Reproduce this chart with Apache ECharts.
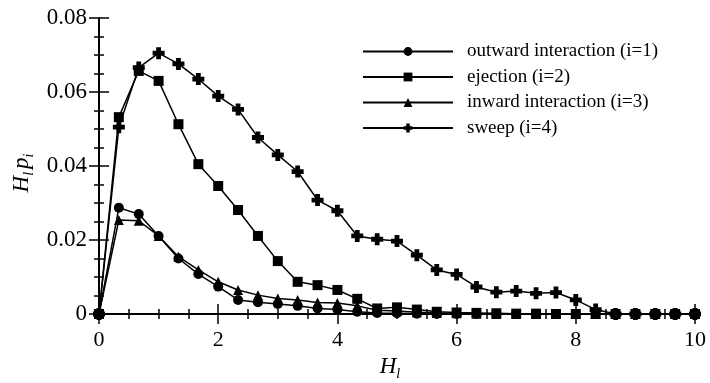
<!DOCTYPE html>
<html>
<head>
<meta charset="utf-8">
<script src="https://cdn.jsdelivr.net/npm/echarts@6/dist/echarts.min.js"></script>
<style>
  html, body { margin: 0; padding: 0; background: #fff; }
  #chart { width: 710px; height: 383px; }
</style>
</head>
<body>
<div id="chart"></div>
<script>
// Hole size H (x positions of the samples)
const holeSize = [0, 0.333, 0.667, 1, 1.333, 1.667, 2, 2.333, 2.667, 3, 3.333, 3.667, 4, 4.333, 4.667, 5,
  5.333, 5.667, 6, 6.333, 6.667, 7, 7.333, 7.667, 8, 8.333, 8.667, 9, 9.333, 9.667, 10];

// H p_i for each quadrant event
const outward = [0, 0.0287, 0.0270, 0.0211, 0.0150, 0.0108, 0.0074, 0.0038, 0.0032, 0.0027, 0.0022, 0.0015,
  0.0012, 0.0006, 0.0003, 0.0002, 0.0001, 0, 0, 0, 0, 0, 0, 0, 0, 0, 0, 0, 0, 0, 0];
const ejection = [0, 0.0532, 0.0657, 0.0630, 0.0513, 0.0405, 0.0346, 0.0281, 0.0211, 0.0143, 0.0087, 0.0078,
  0.0065, 0.0041, 0.0015, 0.0018, 0.0012, 0.0006, 0.0004, 0.0003, 0.0002, 0.0001, 0.0001, 0, 0, 0, 0, 0, 0, 0, 0];
const inward = [0, 0.0254, 0.0252, 0.0211, 0.0155, 0.0119, 0.0087, 0.0065, 0.0051, 0.0042, 0.0038, 0.0031,
  0.0030, 0.0022, 0.0010, 0.0008, 0.0005, 0.0003, 0.0002, 0.0001, 0, 0, 0, 0, 0, 0, 0, 0, 0, 0, 0];
const sweep = [0, 0.0505, 0.0666, 0.0705, 0.0676, 0.0635, 0.0589, 0.0553, 0.0477, 0.0430, 0.0385, 0.0308,
  0.0279, 0.0211, 0.0202, 0.0197, 0.0159, 0.0119, 0.0107, 0.0073, 0.0059, 0.0062, 0.0056, 0.0058, 0.0038,
  0.0012, 0, 0, 0, 0, 0];

const seriesNames = ['outward interaction (i=1)', 'ejection (i=2)', 'inward interaction (i=3)', 'sweep (i=4)'];

const FONT = '"Liberation Serif", "Times New Roman", serif';
// bold four-armed cross used for the sweep markers
const plusPath = 'path://M3,0H7V3H10V7H7V10H3V7H0V3H3Z';

function pairs(ys) { return holeSize.map((h, k) => [h, ys[k]]); }

function lineSeries(name, ys, symbol, size, z) {
  return {
    name: name, type: 'line', data: pairs(ys),
    symbol: symbol, symbolSize: size, z: z,
    showAllSymbol: true,
    lineStyle: { color: '#000', width: 1.5 },
    itemStyle: { color: '#000' },
    emphasis: { disabled: true },
    animation: false
  };
}

const chart = echarts.init(document.getElementById('chart'));

const nameRich = {
  h: { fontFamily: FONT, fontStyle: 'italic', fontSize: 23, lineHeight: 24, verticalAlign: 'top', color: '#000' },
  s: { fontFamily: FONT, fontStyle: 'italic', fontSize: 14, lineHeight: 14, padding: [11, 0, 0, 0], verticalAlign: 'top', color: '#000' }
};

const tickAxisLine = { show: true, lineStyle: { color: '#000', width: 2 } };
const majorTick = { inside: true, length: 10, lineStyle: { color: '#000', width: 1.5 } };
const minorTick = { show: true, splitNumber: 4, length: 5, lineStyle: { color: '#000', width: 1.5 } };

chart.setOption({
  backgroundColor: '#fff',
  textStyle: { fontFamily: FONT },
  grid: { left: 99, right: 15, top: 18, bottom: 69, containLabel: false, outerBoundsMode: 'none' },
  legend: {
    left: 362, top: 42, orient: 'vertical', padding: 0,
    itemWidth: 90, itemHeight: 11, itemGap: 6.5,
    data: seriesNames,
    textStyle: { fontFamily: FONT, fontSize: 19, color: '#000', padding: [0, 0, 0, 9] },
    selectedMode: false
  },
  xAxis: [
    {
      type: 'value', min: 0, max: 10, interval: 2, position: 'bottom',
      name: '{h|H}{s|l}', nameLocation: 'middle', nameGap: 38,
      nameTextStyle: { rich: nameRich, padding: [0, 14, 0, 0] },
      axisLine: tickAxisLine,
      axisTick: majorTick,
      minorTick: minorTick,
      axisLabel: { fontFamily: FONT, fontSize: 22, color: '#000', margin: 15 },
      splitLine: { show: false }
    },
    {
      type: 'value', min: 0, max: 10, interval: 2, position: 'top',
      axisLine: tickAxisLine,
      axisTick: majorTick,
      minorTick: minorTick,
      axisLabel: { show: false },
      splitLine: { show: false }
    }
  ],
  yAxis: [
    {
      type: 'value', min: 0, max: 0.08, interval: 0.02, position: 'left',
      name: '{h|H}{s|l} {h|p}{s|i}', nameLocation: 'middle', nameGap: 64, nameRotate: 90,
      nameTextStyle: { rich: nameRich, padding: [0, 14, 0, 0] },
      axisLine: tickAxisLine,
      axisTick: majorTick,
      minorTick: minorTick,
      axisLabel: {
        fontFamily: FONT, fontSize: 23, color: '#000', margin: 12,
        formatter: v => (v === 0 ? '0' : v.toFixed(2))
      },
      splitLine: { show: false }
    },
    {
      type: 'value', min: 0, max: 0.08, interval: 0.02, position: 'right',
      axisLine: tickAxisLine,
      axisTick: majorTick,
      minorTick: minorTick,
      axisLabel: { show: false },
      splitLine: { show: false }
    }
  ],
  series: [
    lineSeries(seriesNames[0], outward, 'circle', 10, 3),
    lineSeries(seriesNames[1], ejection, 'rect', 10, 5),
    lineSeries(seriesNames[2], inward, 'triangle', 10, 4),
    lineSeries(seriesNames[3], sweep, plusPath, 12, 2)
  ]
});
</script>
</body>
</html>
